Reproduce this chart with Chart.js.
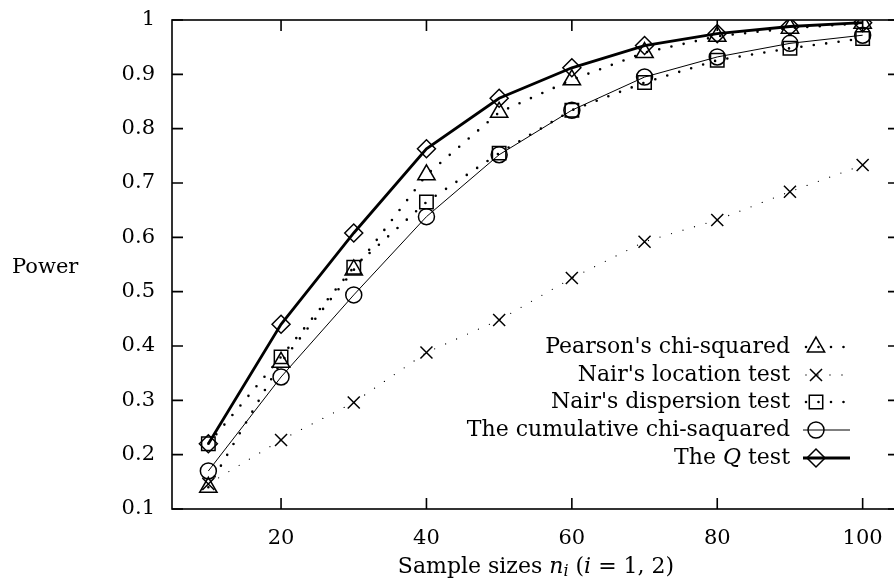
<!DOCTYPE html>
<html>
<head>
<meta charset="utf-8">
<script src="https://cdn.jsdelivr.net/npm/chart.js@4/dist/chart.umd.min.js"></script>
<style>
  html, body { margin: 0; padding: 0; background: #fff; overflow: hidden; }
  #wrap { width: 900px; height: 580px; }
</style>
</head>
<body>
<div id="wrap"><canvas id="power" width="900" height="580"></canvas></div>
<script>
// sample sizes and power values
const sampleSizes = [10, 20, 30, 40, 50, 60, 70, 80, 90, 100];
const pearson = [0.14, 0.37, 0.54, 0.715, 0.83, 0.89, 0.94, 0.97, 0.985, 0.994];
const nairLocation = [0.146, 0.227, 0.296, 0.388, 0.448, 0.525, 0.592, 0.632, 0.684, 0.733];
const nairDispersion = [0.22, 0.38, 0.545, 0.665, 0.755, 0.834, 0.885, 0.926, 0.948, 0.966];
const cumulative = [0.17, 0.343, 0.494, 0.638, 0.752, 0.834, 0.895, 0.932, 0.957, 0.972];
const qTest = [0.22, 0.44, 0.608, 0.763, 0.856, 0.912, 0.953, 0.975, 0.988, 0.995];
const xTicks = [20, 40, 60, 80, 100];
const yTicks = [0.1, 0.2, 0.3, 0.4, 0.5, 0.6, 0.7, 0.8, 0.9, 1];

const FONT = "'DejaVu Serif', serif";
const SIZE = 21;
const TEXT = 22;

function pts(values) {
  return sampleSizes.map((x, i) => ({ x: x, y: values[i] }));
}

function series(label, values, style, radius, width, dash, cap) {
  return {
    label: label,
    data: pts(values),
    borderColor: '#000',
    backgroundColor: 'rgba(0,0,0,0)',
    borderWidth: width,
    borderDash: dash,
    borderCapStyle: cap,
    tension: 0,
    pointStyle: style,
    pointRadius: radius,
    pointBorderWidth: 1.5,
    pointBorderColor: '#000',
    pointBackgroundColor: 'rgba(0,0,0,0)'
  };
}

const datasets = [
  series("Pearson's chi-squared", pearson, 'triangle', 10, 2.6, [0, 12.5], 'round'),
  series("Nair's location test", nairLocation, 'crossRot', 8.5, 1.3, [0, 12], 'round'),
  series("Nair's dispersion test", nairDispersion, 'rect', 9.5, 2.6, [0, 12.5], 'round'),
  series('The cumulative chi-saquared', cumulative, 'circle', 8, 1, [], 'butt'),
  series('The Q test', qTest, 'rectRot', 9, 2.8, [], 'butt')
];

// legend labels, with italic parts
const legendParts = [
  [["Pearson's chi-squared", false]],
  [["Nair's location test", false]],
  [["Nair's dispersion test", false]],
  [['The cumulative chi-saquared', false]],
  [['The ', false], ['Q', true], [' test', false]]
];

function drawMarker(ctx, style, r, x, y) {
  ctx.beginPath();
  if (style === 'triangle') {
    let a = 0;
    ctx.moveTo(x + Math.sin(a) * r, y - Math.cos(a) * r);
    a += 2 * Math.PI / 3;
    ctx.lineTo(x + Math.sin(a) * r, y - Math.cos(a) * r);
    a += 2 * Math.PI / 3;
    ctx.lineTo(x + Math.sin(a) * r, y - Math.cos(a) * r);
    ctx.closePath();
  } else if (style === 'crossRot') {
    const o = Math.SQRT1_2 * r;
    ctx.moveTo(x - o, y - o); ctx.lineTo(x + o, y + o);
    ctx.moveTo(x - o, y + o); ctx.lineTo(x + o, y - o);
  } else if (style === 'rect') {
    const s = Math.SQRT1_2 * r;
    ctx.rect(x - s, y - s, 2 * s, 2 * s);
  } else if (style === 'circle') {
    ctx.arc(x, y, r, 0, Math.PI * 2);
  } else if (style === 'rectRot') {
    ctx.moveTo(x - r, y); ctx.lineTo(x, y - r);
    ctx.lineTo(x + r, y); ctx.lineTo(x, y + r);
    ctx.closePath();
  }
  ctx.stroke();
}

function fontFor(italic, size) {
  return (italic ? 'italic ' : '') + size + 'px ' + FONT;
}

function drawParts(ctx, parts, x, y, align, size) {
  let total = 0;
  parts.forEach((p) => {
    ctx.font = fontFor(p[1], size);
    total += ctx.measureText(p[0]).width;
  });
  let cx = align === 'right' ? x - total : (align === 'center' ? x - total / 2 : x);
  ctx.textAlign = 'left';
  parts.forEach((p) => {
    ctx.font = fontFor(p[1], size);
    ctx.fillText(p[0], cx, y);
    cx += ctx.measureText(p[0]).width;
  });
  return cx;
}

const framePlugin = {
  id: 'frame',
  beforeDatasetsDraw(chart) {
    const ctx = chart.ctx;
    const a = chart.chartArea;
    const xs = chart.scales.x;
    const ys = chart.scales.y;
    const tl = 11;
    ctx.save();
    ctx.strokeStyle = '#000';
    ctx.lineWidth = 1.6;
    ctx.strokeRect(a.left, a.top, a.right - a.left, a.bottom - a.top);
    ctx.beginPath();
    xTicks.forEach((v) => {
      const px = xs.getPixelForValue(v);
      ctx.moveTo(px, a.bottom); ctx.lineTo(px, a.bottom - tl);
      ctx.moveTo(px, a.top); ctx.lineTo(px, a.top + tl);
    });
    yTicks.forEach((v) => {
      const py = ys.getPixelForValue(v);
      ctx.moveTo(a.left, py); ctx.lineTo(a.left + tl, py);
      ctx.moveTo(a.right, py); ctx.lineTo(a.right - tl, py);
    });
    ctx.stroke();
    ctx.restore();
  },
  afterDraw(chart) {
    const ctx = chart.ctx;
    ctx.save();
    ctx.fillStyle = '#000';
    ctx.textBaseline = 'middle';

    // axis titles
    drawParts(ctx, [['Power', false]], 12, 268, 'left', SIZE);
    const ty = 567;
    const sub = 16;
    ctx.font = fontFor(false, TEXT);
    const w1 = ctx.measureText('Sample sizes ').width;
    ctx.font = fontFor(true, TEXT);
    const w2 = ctx.measureText('n').width;
    ctx.font = fontFor(true, sub);
    const w3 = ctx.measureText('i').width;
    ctx.font = fontFor(false, TEXT);
    const w4 = ctx.measureText(' (').width;
    ctx.font = fontFor(true, TEXT);
    const w5 = ctx.measureText('i').width;
    ctx.font = fontFor(false, TEXT);
    const w6 = ctx.measureText(' = 1, 2)').width;
    let x0 = 536 - (w1 + w2 + w3 + w4 + w5 + w6) / 2;
    x0 = drawParts(ctx, [['Sample sizes ', false], ['n', true]], x0, ty, 'left', TEXT);
    ctx.font = fontFor(true, sub);
    ctx.fillText('i', x0, ty + 5);
    x0 += w3;
    drawParts(ctx, [[' (', false], ['i', true], [' = 1, 2)', false]], x0, ty, 'left', TEXT);

    // legend
    const rows = [347, 375, 402, 430, 458];
    datasets.forEach((ds, i) => {
      const y = rows[i];
      ctx.fillStyle = '#000';
      drawParts(ctx, legendParts[i], 790, y, 'right', TEXT);
      ctx.strokeStyle = '#000';
      ctx.lineWidth = ds.borderWidth;
      ctx.lineCap = ds.borderCapStyle;
      ctx.setLineDash(ds.borderDash);
      ctx.beginPath();
      ctx.moveTo(ds.borderDash.length ? 806 : 803, y);
      ctx.lineTo(850, y);
      ctx.stroke();
      ctx.setLineDash([]);
      ctx.lineCap = 'butt';
      ctx.lineWidth = 1.5;
      drawMarker(ctx, ds.pointStyle, ds.pointRadius, 816, y);
    });
    ctx.restore();
  }
};

function initChart(canvas) {
  Chart.defaults.font.family = FONT;
  Chart.defaults.font.size = SIZE;
  Chart.defaults.color = '#000';
  return new Chart(canvas, {
    type: 'line',
    data: { datasets: datasets },
    options: {
      responsive: false,
      animation: false,
      layout: { autoPadding: false, padding: { top: 20, right: 1, left: 0, bottom: 0 } },
      plugins: { legend: { display: false }, tooltip: { enabled: false } },
      scales: {
        x: {
          type: 'linear',
          min: 5,
          max: 105,
          afterBuildTicks: (s) => { s.ticks = xTicks.map((v) => ({ value: v })); },
          afterFit: (s) => { s.height = 71; s.paddingLeft = 0; s.paddingRight = 0; },
          grid: { display: false, drawTicks: false },
          border: { display: false },
          ticks: { padding: 17, maxRotation: 0, callback: (v) => String(v) }
        },
        y: {
          type: 'linear',
          min: 0.1,
          max: 1,
          afterBuildTicks: (s) => { s.ticks = yTicks.map((v) => ({ value: v })); },
          afterFit: (s) => { s.width = 172; s.paddingTop = 0; s.paddingBottom = 0; },
          grid: { display: false, drawTicks: false },
          border: { display: false },
          ticks: { padding: 17, callback: (v) => String(+v.toFixed(1)) }
        }
      }
    },
    plugins: [framePlugin]
  });
}

document.addEventListener('DOMContentLoaded', () => initChart(document.getElementById('power')));
</script>
</body>
</html>
